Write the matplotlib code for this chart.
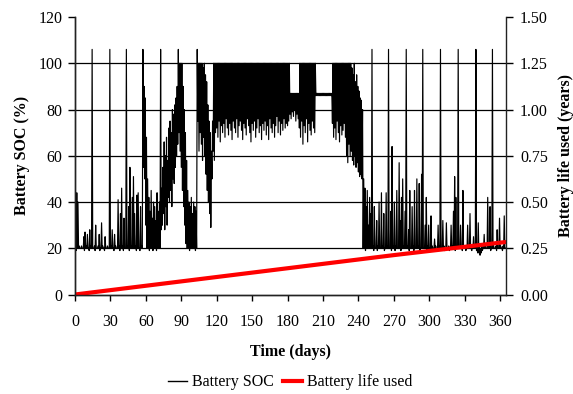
import numpy as np
import matplotlib
matplotlib.use("Agg")
import matplotlib.pyplot as plt
from matplotlib.lines import Line2D

plt.rcParams['font.family'] = ['Liberation Serif', 'DejaVu Serif']

# Battery SOC (%): one high and one low value per day, day 0..364
soc_high = [
    38, 44, 40, 21, 20, 21, 20, 25, 27, 21,          # 0-9
    26, 20, 28, 21, 106, 20, 21, 30, 20, 21,         # 10-19
    26, 20, 31, 21, 20, 25, 20, 21, 20, 106,         # 20-29
    21, 28, 20, 26, 21, 20, 41, 21, 35, 46,          # 30-39
    21, 33, 20, 106, 21, 38, 55, 21, 42, 51,         # 40-49
    35, 21, 43, 44, 20, 38, 21, 106, 90, 85,         # 50-59
    68, 50, 42, 36, 45, 33, 40, 38, 32, 44,          # 60-69
    36, 40, 106, 46, 55, 66, 60, 68, 58, 72,         # 70-79
    75, 70, 80, 78, 82, 85, 90, 106, 100, 100,       # 80-89
    100, 90, 80, 70, 58, 45, 40, 38, 42, 35,         # 90-99
    40, 38, 36, 106, 100, 100, 100, 100, 98, 100,    # 100-109
    95, 92, 82, 75, 70, 62, 75, 100, 100, 100,       # 110-119
    100, 100, 100, 100, 100, 100, 100, 100, 100, 100,  # 120-129
    100, 100, 100, 100, 100, 100, 100, 100, 100, 100,  # 130-139
    100, 100, 100, 100, 100, 100, 100, 100, 100, 100,  # 140-149
    100, 100, 100, 100, 100, 100, 100, 100, 100, 100,  # 150-159
    100, 100, 100, 100, 100, 100, 100, 100, 100, 100,  # 160-169
    100, 100, 100, 100, 100, 100, 100, 100, 100, 100,  # 170-179
    100, 100,                                          # 180-181
    87, 87, 87, 87, 87, 87, 87, 87,                    # 182-189
    100, 100, 100, 100, 100, 100, 100, 100, 100, 100,  # 190-199
    100, 100, 100, 100,                                # 200-203
    87, 87, 87, 87, 87, 87, 87, 87, 87, 87,            # 204-213
    87, 87, 87, 87,                                    # 214-217
    100, 100, 100, 100, 100, 100, 100, 100, 100, 100,  # 218-227
    100, 100,                                          # 228-229
    100, 100, 100, 100, 98, 95, 100, 92, 95, 90,      # 230-239
    88, 85, 84, 80,                                    # 240-243
    50, 46, 38, 45, 30, 42,                            # 244-249
    35, 106, 21, 38, 20, 32, 21, 40, 20, 44,         # 250-259
    21, 35, 20, 44, 21, 106, 20, 36, 64, 21,         # 260-269
    40, 21, 45, 20, 57, 32, 42, 50, 21, 36,          # 270-279
    106, 21, 28, 45, 20, 38, 21, 45, 20, 50,         # 280-289
    21, 48, 20, 52, 106, 20, 30, 42, 21, 30,         # 290-299
    20, 34, 21, 20, 24, 21, 20, 30, 21, 106,         # 300-309
    20, 32, 21, 20, 31, 20, 21, 20, 30, 21,          # 310-319
    36, 51, 42, 21, 106, 20, 30, 21, 45, 20,         # 320-329
    21, 20, 30, 21, 35, 20, 21, 25, 20, 106,         # 330-339
    20, 31, 21, 20, 21, 20, 26, 21, 20, 42,          # 340-349
    21, 38, 20, 106, 21, 20, 21, 28, 20, 33,         # 350-359
    21, 20, 21, 34, 20,                              # 360-364
]

soc_low = [
    20, 19, 20, 20, 20, 20, 20, 20, 19, 20,          # 0-9
    20, 20, 19, 20, 20, 20, 20, 19, 20, 20,          # 10-19
    20, 19, 20, 20, 20, 19, 20, 20, 20, 20,          # 20-29
    20, 20, 20, 19, 20, 20, 20, 20, 19, 20,          # 30-39
    20, 19, 20, 20, 20, 20, 19, 20, 20, 20,          # 40-49
    20, 20, 19, 20, 20, 19, 20, 20, 55, 50,          # 50-59
    30, 20, 20, 19, 20, 20, 19, 20, 20, 19,          # 60-69
    20, 20, 20, 28, 30, 35, 28, 38, 30, 42,          # 70-79
    40, 45, 38, 50, 48, 55, 60, 65, 70, 62,          # 80-89
    55, 45, 38, 30, 22, 20, 20, 19, 20, 20,          # 90-99
    20, 20, 19, 20, 75, 62, 70, 65, 58, 68,          # 100-109
    60, 52, 45, 40, 35, 29, 50, 62, 58, 70,          # 110-119
    72, 68, 75, 66, 73, 70, 74, 68, 76, 72,          # 120-129
    69, 74, 71, 67, 75, 72, 70, 76, 68, 73,          # 130-139
    75, 71, 67, 74, 72, 69, 76, 73, 70, 66,          # 140-149
    74, 71, 75, 68, 72, 76, 70, 73, 67, 74,          # 150-159
    71, 75, 69, 73, 67, 76, 72, 70, 74, 68,          # 160-169
    73, 77, 70, 75, 69, 74, 71, 76, 72, 74,          # 170-179
    73, 75,                                          # 180-181
    78, 76, 79, 77, 80, 75, 78, 76,                  # 182-189
    72, 68, 75, 65, 73, 70, 76, 66, 74, 71,          # 190-199
    69, 75, 72, 70,                                  # 200-203
    86, 86, 86, 86, 86, 86, 86, 86, 86, 86,          # 204-213
    86, 86, 86, 86,                                  # 214-217
    74, 68, 72, 67, 75, 70, 66, 73, 69, 71,          # 218-227
    74, 68,                                          # 228-229
    60, 57, 65, 60, 62, 58, 56, 60, 55, 57,          # 230-239
    53, 51, 52, 50,                                  # 240-243
    20, 20, 19, 20, 20, 20,                          # 244-249
    20, 20, 20, 19, 20, 20, 19, 20, 20, 20,          # 250-259
    20, 20, 19, 20, 20, 20, 20, 20, 19, 20,          # 260-269
    20, 19, 20, 20, 20, 20, 19, 20, 20, 20,          # 270-279
    20, 20, 20, 19, 20, 20, 20, 19, 20, 20,          # 280-289
    20, 20, 19, 20, 20, 20, 20, 20, 19, 20,          # 290-299
    20, 19, 20, 20, 20, 20, 19, 20, 20, 20,          # 300-309
    20, 20, 20, 19, 20, 20, 20, 19, 20, 20,          # 310-319
    20, 20, 19, 20, 20, 20, 20, 20, 19, 20,          # 320-329
    20, 19, 20, 20, 20, 20, 19, 20, 20, 20,          # 330-339
    19, 18, 18, 17, 18, 19, 20, 20, 20, 20,          # 340-349
    20, 20, 19, 20, 20, 20, 20, 19, 20, 20,          # 350-359
    20, 20, 19, 20, 20,                              # 360-364
]

# Battery life used (years)
life_days = [0, 90, 180, 270, 365]
life_used = [0.0, 0.071, 0.142, 0.213, 0.284]

soc_ticks = [0, 20, 40, 60, 80, 100, 120]
life_ticks = [0.0, 0.25, 0.5, 0.75, 1.0, 1.25, 1.5]
day_ticks = list(range(0, 361, 30))

# interleave daily low/high into one time series
days = np.arange(len(soc_high))
t = np.column_stack([days, days + 0.5]).ravel()
soc = np.column_stack([soc_low, soc_high]).ravel()

fig = plt.figure(figsize=(5.73, 3.94), dpi=100)
ax = fig.add_axes([0.1309, 0.2525, 0.7522, 0.7043])
ax2 = ax.twinx()

ax.plot(t, soc, color='black', lw=0.85)
ax2.plot(life_days, life_used, color='#ff0000', lw=3, solid_capstyle='butt')

ax.set_xlim(0, 365)
ax.set_ylim(0, 120)
ax2.set_ylim(0, 1.5)
ax.set_xticks(day_ticks)
ax.set_yticks(soc_ticks)
ax2.set_yticks(life_ticks)
ax2.set_yticklabels([f"{v:.2f}" for v in life_ticks])

# horizontal gridlines (not on the axis lines)
ax.yaxis.grid(True, color='black', lw=0.9)
for tick, v in zip(ax.yaxis.get_major_ticks(), soc_ticks):
    if v in (0, 120):
        tick.gridline.set_visible(False)

for a in (ax, ax2):
    a.spines['top'].set_visible(False)
    for s in a.spines.values():
        s.set_color('#222222')
        s.set_linewidth(1.0)
ax.spines['right'].set_visible(False)

ax.tick_params(axis='x', direction='out', length=4, width=1, pad=10, labelsize=11.5)
ax.tick_params(axis='y', direction='out', length=5, width=1, pad=4, labelsize=11.5)
ax2.tick_params(axis='y', direction='out', length=5, width=1, pad=5, labelsize=11.5)

ax.set_xlabel('Time (days)', fontweight='bold', fontsize=11.5, labelpad=10)
ax.set_ylabel('Battery SOC (%)', fontweight='bold', fontsize=11.5, labelpad=6)
ax2.set_ylabel('Battery life used (years)', fontweight='bold', fontsize=11.5, labelpad=7)

handles = [Line2D([], [], color='black', lw=1),
           Line2D([], [], color='#ff0000', lw=3)]
fig.legend(handles, ['Battery SOC', 'Battery life used'], loc='center',
           bbox_to_anchor=(0.506, 0.03), ncol=2, frameon=False, fontsize=11.5,
           handlelength=1.2, handletextpad=0.3, columnspacing=0.6)

fig.savefig('out.png', dpi=100)
